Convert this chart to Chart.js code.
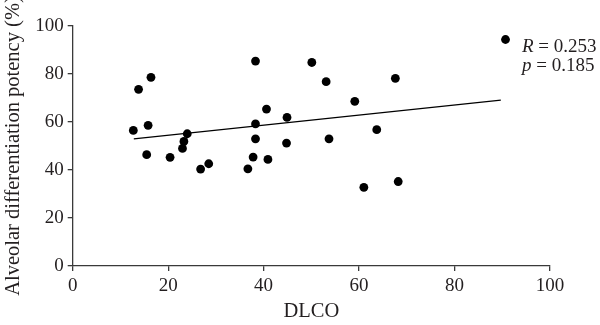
<!DOCTYPE html>
<html>
<head>
<meta charset="utf-8">
<script src="https://cdn.jsdelivr.net/npm/chart.js@4.4.1/dist/chart.umd.min.js"></script>
<style>
  html, body { margin: 0; padding: 0; background: #fff; }
  #wrap { width: 600px; height: 325px; position: relative; }
</style>
</head>
<body>
<div id="wrap"><canvas id="chart"></canvas></div>
<script>
// DLCO vs alveolar differentiation potency, one point per sample
const dlco = [12.7, 13.8, 15.5, 15.8, 16.4, 20.4, 23.0, 23.3, 24.0, 26.8, 28.5, 36.7, 37.8, 38.3,
  38.3, 38.3, 40.6, 40.9, 44.8, 44.9, 50.1, 53.1, 53.7, 59.1, 61.0, 63.7, 67.6, 68.2];
const potency = [56.5, 73.6, 46.4, 58.6, 78.6, 45.3, 49.0, 51.9, 55.1, 40.4, 42.6, 40.5, 45.4, 53.0,
  59.2, 85.4, 65.4, 44.4, 51.2, 61.9, 84.8, 76.8, 53.0, 68.6, 32.8, 56.8, 78.2, 35.2];

// fitted line end points
const fitX = [12.8, 89.7];
const fitY = [53.0, 69.1];

const xTicks = [0, 20, 40, 60, 80, 100];
const yTicks = [0, 20, 40, 60, 80, 100];

const statLines = [
  { sym: 'R', val: ' = 0.253' },
  { sym: 'p', val: ' = 0.185' }
];

const SERIF = '"Liberation Serif", "DejaVu Serif", serif';
const INK = '#231f20';
const AXIS = '#3a3a3a';

// legend drawn by hand so the stat symbols can be italic
const statLegend = {
  id: 'statLegend',
  afterDraw(chart) {
    const ctx = chart.ctx;
    ctx.save();
    ctx.fillStyle = '#000';
    ctx.beginPath();
    ctx.arc(505.5, 39.5, 4.4, 0, Math.PI * 2);
    ctx.fill();
    ctx.fillStyle = INK;
    ctx.textBaseline = 'alphabetic';
    statLines.forEach((ln, i) => {
      const y = 51.5 + i * 19;
      ctx.font = 'italic 19px ' + SERIF;
      ctx.fillText(ln.sym, 522, y);
      const w = ctx.measureText(ln.sym).width;
      ctx.font = '19px ' + SERIF;
      ctx.fillText(ln.val, 522 + w, y);
    });
    ctx.restore();
  }
};

const axisCommon = (ticks) => ({
  type: 'linear',
  min: 0,
  max: 100,
  afterBuildTicks: (scale) => { scale.ticks = ticks.map(v => ({ value: v })); },
  grid: { display: true, drawOnChartArea: false, drawTicks: true, tickLength: 5, color: AXIS, lineWidth: 1.3 },
  border: { display: true, color: AXIS, width: 1.3 },
  ticks: { color: INK, font: { family: SERIF, size: 19 } }
});

const xAxis = axisCommon(xTicks);
xAxis.ticks.padding = 4;
xAxis.title = { display: true, text: 'DLCO', color: INK, font: { family: SERIF, size: 20.5 }, padding: { top: 0, bottom: 1 } };
xAxis.afterFit = (scale) => { scale.height = 59; };

const yAxis = axisCommon(yTicks);
yAxis.ticks.padding = 4;
yAxis.title = { display: true, text: 'Alveolar differentiation potency (%)', color: INK, font: { family: SERIF, size: 20.5 }, padding: { top: 1, bottom: 0 } };
yAxis.afterFit = (scale) => { scale.width = 72.7; };

new Chart(document.getElementById('chart'), {
  type: 'scatter',
  data: {
    datasets: [
      {
        label: 'samples',
        data: dlco.map((x, i) => ({ x: x, y: potency[i] })),
        backgroundColor: '#000',
        borderColor: '#000',
        pointRadius: 4.4,
        pointHoverRadius: 4.4,
        borderWidth: 0
      },
      {
        type: 'line',
        label: 'fit',
        data: fitX.map((x, i) => ({ x: x, y: fitY[i] })),
        borderColor: '#000',
        borderWidth: 1.3,
        pointRadius: 0,
        fill: false,
        tension: 0
      }
    ]
  },
  options: {
    responsive: true,
    maintainAspectRatio: false,
    animation: false,
    layout: { padding: { left: 0, top: 26, right: 50, bottom: 0 } },
    plugins: {
      legend: { display: false },
      tooltip: { enabled: false }
    },
    scales: { x: xAxis, y: yAxis }
  },
  plugins: [statLegend]
});
</script>
</body>
</html>
